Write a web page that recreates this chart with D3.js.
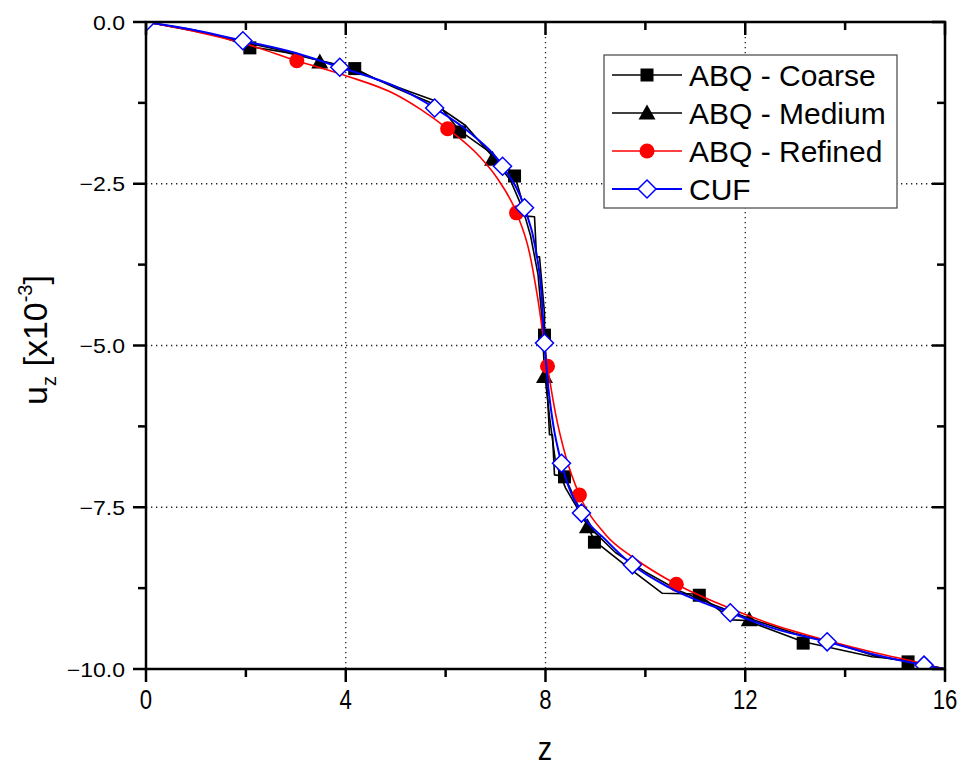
<!DOCTYPE html>
<html>
<head>
<meta charset="utf-8">
<script src="https://cdn.jsdelivr.net/npm/d3@7"></script>
<style>
  body { margin: 0; background: #fff; }
  svg { display: block; font-family: "Liberation Sans", Arial, sans-serif; }
</style>
</head>
<body>
<svg id="chart" width="963" height="767"></svg>
<script>
// line data (z, u_z x1e-3)
let coarseLine = [[0,0],[0.7,-0.1],[1.4,-0.2],[2.08,-0.38],[2.8,-0.47],[3.5,-0.6],[4.18,-0.72],[4.6,-0.88],[5.3,-1.08],[5.8,-1.22],[6.28,-1.68],
  [6.9,-2.02],[7.38,-2.36],[7.62,-3.0],[7.78,-3.01],[7.82,-3.63],[7.88,-3.63],[7.98,-4.5],[7.98,-4.84],[8.08,-6.38],[8.14,-6.38],
  [8.18,-7.0],[8.38,-7.02],[8.98,-8.02],[9.6,-8.4],[10.34,-8.83],[11.02,-8.84],[11.08,-8.86],[11.74,-9.24],[12.02,-9.25],
  [13.16,-9.58],[14.54,-9.81],[14.8,-9.83],[15.26,-9.88],[16,-10]];
let coarseMarks = [[2.08,-0.4],[4.18,-0.72],[6.28,-1.7],[7.38,-2.38],[7.98,-4.84],[8.38,-7.03],[8.98,-8.04],[11.08,-8.86],[13.16,-9.6],[15.26,-9.89]];

let mediumLine = [[0,0],[1.0,-0.13],[2.0,-0.32],[2.8,-0.45],[3.48,-0.6],[4.2,-0.74],[5.0,-1.02],[5.8,-1.28],[6.4,-1.6],[6.94,-2.08],
  [7.3,-2.45],[7.55,-2.9],[7.7,-3.3],[7.85,-3.9],[7.92,-4.5],[7.98,-5.4],[8.08,-6.1],[8.2,-6.8],[8.4,-7.2],[8.84,-7.78],
  [9.4,-8.2],[10.0,-8.5],[10.7,-8.8],[11.4,-9.02],[12.08,-9.22],[13.0,-9.45],[13.8,-9.6],[14.6,-9.8],[15.4,-9.9],[16,-10]];
let mediumMarks = [[3.48,-0.62],[6.94,-2.12],[7.98,-5.48],[8.84,-7.8],[12.08,-9.24]];

let refinedLine = [[0,0],[1,-0.15],[2,-0.34],[3.02,-0.6],[4,-0.83],[5,-1.12],[5.5,-1.35],[6.04,-1.65],[6.68,-2.08],[7.02,-2.4],
  [7.42,-2.95],[7.68,-3.57],[7.84,-4.25],[8.04,-5.32],[8.2,-6.05],[8.4,-6.7],[8.68,-7.31],[9.2,-7.92],[9.8,-8.3],[10.62,-8.69],
  [11.5,-9.0],[12.5,-9.3],[13.64,-9.56],[14.6,-9.75],[15.3,-9.87],[16,-10]];
let refinedMarks = [[3.02,-0.6],[6.04,-1.65],[7.42,-2.95],[8.04,-5.32],[8.68,-7.31],[10.62,-8.69]];

let cufLine = [[0,0],[1,-0.13],[1.94,-0.29],[3,-0.48],[3.88,-0.7],[5,-1.0],[5.78,-1.33],[6.5,-1.72],[7.14,-2.23],[7.58,-2.87],
  [7.8,-3.5],[7.92,-4.2],[7.98,-4.96],[8.05,-5.6],[8.15,-6.2],[8.32,-6.82],[8.72,-7.59],[9.2,-8.0],[9.74,-8.39],[10.5,-8.75],
  [11.7,-9.13],[12.6,-9.38],[13.64,-9.58],[14.6,-9.78],[15.58,-9.94],[16,-10]];
let cufMarks = [[0,0],[1.94,-0.29],[3.88,-0.7],[5.78,-1.33],[7.14,-2.23],[7.58,-2.87],[7.98,-4.96],[8.32,-6.82],[8.72,-7.59],
  [9.74,-8.39],[11.7,-9.13],[13.64,-9.58],[15.58,-9.94]];

let seriesNames = ["ABQ - Coarse", "ABQ - Medium", "ABQ - Refined", "CUF"];
let xTicks = [0, 4, 8, 12, 16];
let xMinor = [2, 6, 10, 14];
let yTicks = [0, -2.5, -5, -7.5, -10];
let yMinor = [-1.25, -3.75, -6.25, -8.75];

let svg = d3.select("#chart");
let pLeft = 146, pRight = 945, pTop = 22, pBottom = 669;

let x = d3.scaleLinear().domain([0, 16]).range([pLeft, pRight]);
let y = d3.scaleLinear().domain([0, -10]).range([pTop, pBottom]);

svg.append("defs").append("clipPath").attr("id", "plotClip")
  .append("rect").attr("x", pLeft).attr("y", pTop).attr("width", pRight - pLeft).attr("height", pBottom - pTop);

// grid
let grid = svg.append("g").attr("stroke", "#222").attr("stroke-width", 1.3).attr("stroke-dasharray", "1.3,3.7");
grid.selectAll(".gx").data(xTicks.slice(1, -1)).enter().append("line")
  .attr("x1", d => x(d)).attr("x2", d => x(d)).attr("y1", pTop).attr("y2", pBottom);
grid.selectAll(".gy").data(yTicks.slice(1, -1)).enter().append("line")
  .attr("y1", d => y(d)).attr("y2", d => y(d)).attr("x1", pLeft).attr("x2", pRight);

// FE results drawn as polylines, refined and CUF as smooth curves
let series = [
  { line: coarseLine, marks: coarseMarks, color: "#000", sym: "square", curve: d3.curveLinear },
  { line: mediumLine, marks: mediumMarks, color: "#000", sym: "triangle", curve: d3.curveLinear },
  { line: refinedLine, marks: refinedMarks, color: "#ff0000", sym: "circle", curve: d3.curveMonotoneX },
  { line: cufLine, marks: cufMarks, color: "#0000ff", sym: "diamond", curve: d3.curveMonotoneX }
];

function drawSymbol(g, sym, color, cx, cy) {
  if (sym == "square") {
    g.append("rect").attr("x", cx - 6.5).attr("y", cy - 6.5).attr("width", 13).attr("height", 13).attr("fill", color);
  } else if (sym == "triangle") {
    g.append("path").attr("d", "M" + cx + "," + (cy - 8.5) + "L" + (cx + 8.5) + "," + (cy + 6.5) + "L" + (cx - 8.5) + "," + (cy + 6.5) + "Z")
      .attr("fill", color);
  } else if (sym == "circle") {
    g.append("circle").attr("cx", cx).attr("cy", cy).attr("r", 7.5).attr("fill", color);
  } else {
    g.append("path").attr("d", "M" + cx + "," + (cy - 9) + "L" + (cx + 9) + "," + cy + "L" + cx + "," + (cy + 9) + "L" + (cx - 9) + "," + cy + "Z")
      .attr("fill", "#fff").attr("stroke", color).attr("stroke-width", 1.5);
  }
}

let plot = svg.append("g").attr("clip-path", "url(#plotClip)");
series.forEach(s => {
  let line = d3.line().x(d => x(d[0])).y(d => y(d[1])).curve(s.curve);
  let g = plot.append("g");
  g.append("path").datum(s.line).attr("d", line).attr("fill", "none")
    .attr("stroke", s.color).attr("stroke-width", s.sym == "diamond" ? 2 : 1.6).attr("stroke-linejoin", "round");
  s.marks.forEach(m => drawSymbol(g, s.sym, s.color, x(m[0]), y(m[1])));
});

// axes frame
let frame = svg.append("g").attr("stroke", "#000").attr("stroke-width", 2.5);
frame.append("rect").attr("x", pLeft).attr("y", pTop).attr("width", pRight - pLeft).attr("height", pBottom - pTop).attr("fill", "none");

// ticks: outward on bottom/left, inward on top/right
xTicks.forEach(t => {
  frame.append("line").attr("x1", x(t)).attr("x2", x(t)).attr("y1", pBottom).attr("y2", pBottom + 13);
  frame.append("line").attr("x1", x(t)).attr("x2", x(t)).attr("y1", pTop).attr("y2", pTop + 13);
});
xMinor.forEach(t => {
  frame.append("line").attr("x1", x(t)).attr("x2", x(t)).attr("y1", pBottom).attr("y2", pBottom + 8);
  frame.append("line").attr("x1", x(t)).attr("x2", x(t)).attr("y1", pTop).attr("y2", pTop + 8);
});
yTicks.forEach(t => {
  frame.append("line").attr("y1", y(t)).attr("y2", y(t)).attr("x1", pLeft - 13).attr("x2", pLeft);
  frame.append("line").attr("y1", y(t)).attr("y2", y(t)).attr("x1", pRight - 13).attr("x2", pRight);
});
yMinor.forEach(t => {
  frame.append("line").attr("y1", y(t)).attr("y2", y(t)).attr("x1", pLeft - 8).attr("x2", pLeft);
  frame.append("line").attr("y1", y(t)).attr("y2", y(t)).attr("x1", pRight - 8).attr("x2", pRight);
});

// tick labels
svg.selectAll(".xl").data(xTicks).enter().append("text")
  .attr("transform", d => "translate(" + x(d) + ",709) scale(0.82,1)")
  .attr("text-anchor", "middle").attr("font-size", 27).text(d => d);
svg.selectAll(".yl").data(yTicks).enter().append("text")
  .attr("transform", d => "translate(125," + (y(d) + 7.5) + ") scale(1.15,1)")
  .attr("text-anchor", "end").attr("font-size", 20).text(d => d3.format(".1f")(d));

// axis titles
svg.append("text").attr("transform", "translate(545,760) scale(0.85,1)").attr("text-anchor", "middle")
  .attr("font-size", 34).text("z");
let yt = svg.append("text").attr("transform", "translate(47,340) rotate(-90)").attr("text-anchor", "middle").attr("font-size", 34);
yt.append("tspan").text("u");
yt.append("tspan").attr("font-size", 20).attr("dy", 9).text("z");
yt.append("tspan").attr("dy", -9).text(" [x10");
yt.append("tspan").attr("font-size", 20).attr("dy", -15).text("-3");
yt.append("tspan").attr("dy", 15).text("]");

// legend
let lg = svg.append("g");
lg.append("rect").attr("x", 604).attr("y", 55).attr("width", 293).attr("height", 153)
  .attr("fill", "#fff").attr("stroke", "#444").attr("stroke-width", 1.2);
series.forEach((s, i) => {
  let ly = 75 + i * 38;
  let g = lg.append("g");
  g.append("line").attr("x1", 612).attr("x2", 682).attr("y1", ly).attr("y2", ly)
    .attr("stroke", s.color).attr("stroke-width", s.sym == "diamond" ? 2 : 1.6);
  drawSymbol(g, s.sym, s.color, 647, ly);
  g.append("text").attr("x", 689).attr("y", ly + 11).attr("font-size", 30).text(seriesNames[i]);
});
</script>
</body>
</html>
